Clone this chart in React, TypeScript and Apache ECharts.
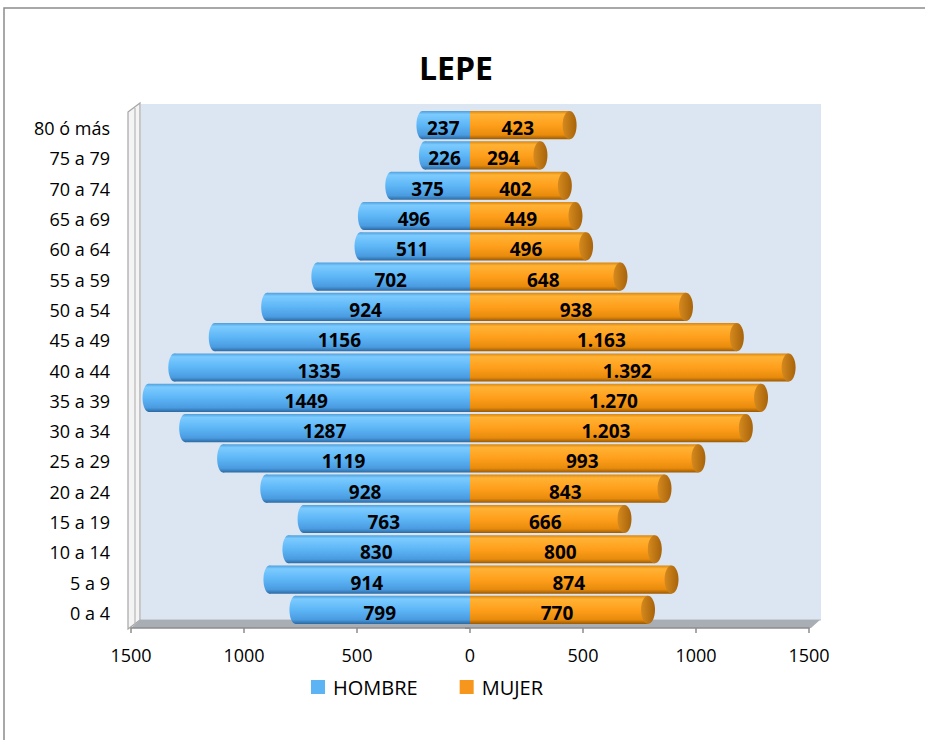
import React, { useEffect, useRef } from "react";
import * as echarts from "echarts";

const categories = ["0 a 4", "5 a 9", "10 a 14", "15 a 19", "20 a 24", "25 a 29", "30 a 34", "35 a 39", "40 a 44", "45 a 49", "50 a 54", "55 a 59", "60 a 64", "65 a 69", "70 a 74", "75 a 79", "80 ó más"];
const hombre = [799, 914, 830, 763, 928, 1119, 1287, 1449, 1335, 1156, 924, 702, 511, 496, 375, 226, 237];
const mujer = [770, 874, 800, 666, 843, 993, 1203, 1270, 1392, 1163, 938, 648, 496, 449, 402, 294, 423];
const seriesNames = ["HOMBRE", "MUJER"];
const xMin = -1500;
const xMax = 1500;
const xInterval = 500;

const FONT = '"Open Sans", "Liberation Sans", sans-serif';

const blueGrad = () =>
  new echarts.graphic.LinearGradient(0, 0, 0, 1, [
    { offset: 0, color: "#4f9fdc" },
    { offset: 0.12, color: "#7ccbff" },
    { offset: 0.5, color: "#5db6f6" },
    { offset: 0.85, color: "#4a9be0" },
    { offset: 1, color: "#2c6aa3" },
  ]);
const orangeGrad = () =>
  new echarts.graphic.LinearGradient(0, 0, 0, 1, [
    { offset: 0, color: "#d98610" },
    { offset: 0.12, color: "#ffb234" },
    { offset: 0.5, color: "#ff9f1c" },
    { offset: 0.85, color: "#e88b0c" },
    { offset: 1, color: "#9a5a05" },
  ]);
const capGrad = () =>
  new echarts.graphic.LinearGradient(0, 0, 1, 0, [
    { offset: 0, color: "#d58a1e" },
    { offset: 1, color: "#a8630a" },
  ]);

const fmtPlain = (v: number) => String(v);
const fmtDot = (v: number) => (v >= 1000 ? `${Math.floor(v / 1000)}.${String(v % 1000).padStart(3, "0")}` : String(v));

const makeRender = (side: "left" | "right", values: number[], fmt: (v: number) => string) =>
  (params: any, api: any) => {
    const val = api.value(0);
    const cat = api.value(1);
    const zero = api.coord([0, cat]);
    const end = api.coord([val, cat]);
    const band = api.size([0, 1])[1];
    const h = band * 0.93;
    const cy = zero[1] - 3;
    const y0 = cy - h / 2;
    const children: any[] = [];
    const text = fmt(values[params.dataIndex]);
    const labelStyle = {
      text,
      y: cy + 3,
      align: "center",
      verticalAlign: "middle",
      fontFamily: FONT,
      fontWeight: "bold",
      fontSize: 19,
      fill: "#000",
    };
    if (side === "left") {
      const rx = 6;
      const left = end[0];
      children.push({
        type: "rect",
        shape: { x: left + rx, y: y0, width: zero[0] - left - rx, height: h },
        style: { fill: blueGrad() },
      });
      children.push({
        type: "ellipse",
        shape: { cx: left + rx, cy, rx, ry: h / 2 },
        style: { fill: blueGrad() },
      });
      children.push({ type: "text", style: { ...labelStyle, x: (left + zero[0]) / 2 } });
    } else {
      const right = end[0];
      const capX = right + 4;
      children.push({
        type: "rect",
        shape: { x: zero[0], y: y0, width: capX - zero[0], height: h },
        style: { fill: orangeGrad() },
      });
      children.push({
        type: "ellipse",
        shape: { cx: capX, cy, rx: 7, ry: h / 2 },
        style: { fill: capGrad() },
      });
      children.push({ type: "text", style: { ...labelStyle, x: (right + zero[0]) / 2 } });
    }
    return { type: "group", children };
  };

export default function App() {
  const ref = useRef<HTMLDivElement>(null);
  useEffect(() => {
    if (!ref.current) return;
    const chart = echarts.init(ref.current, undefined, { renderer: "svg" });
    const option: any = {
      animation: false,
      backgroundColor: "#ffffff",
      title: {
        text: "LEPE",
        left: 451,
        textAlign: "center",
        top: 46,
        textStyle: { fontFamily: FONT, fontWeight: "bold", fontSize: 32, color: "#000" },
      },
      legend: {
        data: seriesNames,
        left: 306,
        top: 672,
        icon: "rect",
        itemWidth: 14,
        itemHeight: 14,
        itemGap: 42,
        textStyle: { fontFamily: FONT, fontSize: 20, color: "#000", padding: [0, 0, 0, 3] },
      },
      grid: { left: 131, right: 116, top: 113, bottom: 112, containLabel: false },
      xAxis: {
        type: "value",
        min: xMin,
        max: xMax,
        interval: xInterval,
        axisLine: { show: true, lineStyle: { color: "#8c8c8c", width: 1.5 } },
        axisTick: { show: true, length: 5, lineStyle: { color: "#8c8c8c", width: 1.5 } },
        splitLine: { show: false },
        axisLabel: {
          formatter: (v: number) => String(Math.abs(v)),
          fontFamily: FONT,
          fontSize: 18,
          color: "#000",
          margin: 18,
          showMinLabel: true,
          showMaxLabel: true,
        },
      },
      yAxis: [
        {
          type: "category",
          data: categories,
          position: "left",
          axisLine: { show: false, onZero: false },
          axisTick: { show: false },
          axisLabel: { fontFamily: FONT, fontSize: 18, color: "#000", margin: 21 },
        },
        {
          type: "category",
          data: categories,
          position: "right",
          axisLine: { show: false, onZero: true },
          axisTick: { show: true, inside: true, length: 5, lineStyle: { color: "#8c8c8c", width: 2 } },
          axisLabel: { show: false },
        },
      ],
      graphic: [
        {
          type: "rect",
          z: 0,
          shape: { x: 4, y: 8, width: 1000, height: 1000 },
          style: { fill: "none", stroke: "#8c8c8c", lineWidth: 1.5 },
        },
        {
          type: "rect",
          z: 0,
          shape: { x: 141, y: 104, width: 680, height: 517 },
          style: { fill: "#dce6f2" },
        },
        {
          type: "polygon",
          z: 0,
          shape: { points: [[128, 112], [140, 103], [140, 620], [128, 629]] },
          style: { fill: "#f4f4f4", stroke: "#a6a6a6", lineWidth: 1.2 },
        },
        {
          type: "line",
          z: 0,
          shape: { x1: 135, y1: 108, x2: 135, y2: 624 },
          style: { stroke: "#b5b5b5", lineWidth: 1.2 },
        },
        {
          type: "polygon",
          z: 0,
          shape: { points: [[131, 628], [141, 619], [821, 619], [811, 628]] },
          style: { fill: "#a9aeb4" },
        },
        {
          type: "line",
          z: 0,
          shape: { x1: 141, y1: 619.5, x2: 821, y2: 619.5 },
          style: { stroke: "#c9ced4", lineWidth: 1 },
        },
      ],
      series: [
        {
          name: seriesNames[0],
          type: "custom",
          z: 5,
          itemStyle: { color: "#5db4f4" },
          data: hombre.map((v, i) => [-v, i]),
          encode: { x: 0, y: 1 },
          renderItem: makeRender("left", hombre, fmtPlain),
        },
        {
          name: seriesNames[1],
          type: "custom",
          z: 5,
          itemStyle: { color: "#f7961c" },
          data: mujer.map((v, i) => [v, i]),
          encode: { x: 0, y: 1 },
          renderItem: makeRender("right", mujer, fmtDot),
        },
      ],
    };
    chart.setOption(option);
    return () => chart.dispose();
  }, []);
  return <div ref={ref} style={{ position: "absolute", left: 0, top: 0, width: 925, height: 740 }} />;
}
